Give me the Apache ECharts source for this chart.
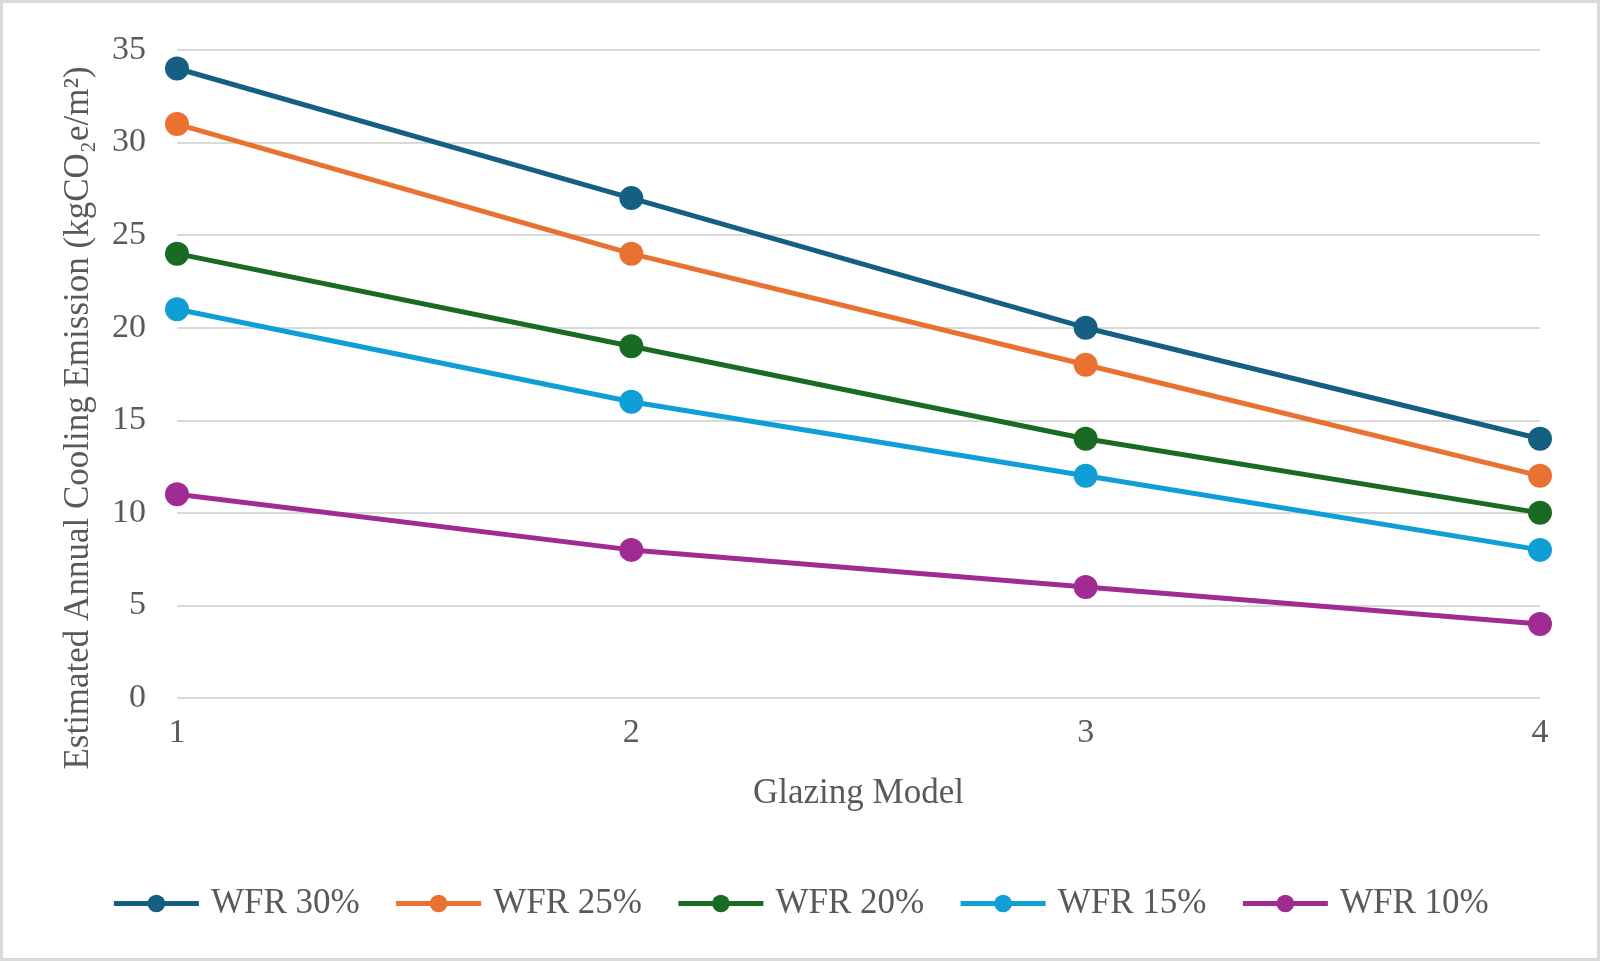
<!DOCTYPE html>
<html>
<head>
<meta charset="utf-8">
<script src="https://cdn.jsdelivr.net/npm/echarts@6/dist/echarts.min.js"></script>
<style>
html,body{margin:0;padding:0;background:#fff;}
#chart{width:1600px;height:961px;}
</style>
</head>
<body>
<div id="chart"></div>
<script>
const categories = ['1', '2', '3', '4'];
const seriesNames = ['WFR 30%', 'WFR 25%', 'WFR 20%', 'WFR 15%', 'WFR 10%'];
const wfr30 = [34, 27, 20, 14];
const wfr25 = [31, 24, 18, 12];
const wfr20 = [24, 19, 14, 10];
const wfr15 = [21, 16, 12, 8];
const wfr10 = [11, 8, 6, 4];
const colors = ['#156082', '#E97132', '#196B24', '#0F9ED5', '#A02B93'];
const yTitle = 'Estimated Annual Cooling Emission (kgCO\u2082e/m\u00B2)';
const xTitle = 'Glazing Model';

const FONT = '"Liberation Serif", "Times New Roman", serif';
const TXT = '#595959';
const values = [wfr30, wfr25, wfr20, wfr15, wfr10];

const chart = echarts.init(document.getElementById('chart'), null, {renderer: 'canvas'});
chart.setOption({
  backgroundColor: '#ffffff',
  animation: false,
  color: colors,
  grid: {left: 177, right: 60, top: 50, bottom: 263, containLabel: false},
  xAxis: {
    type: 'category',
    data: categories,
    boundaryGap: false,
    axisLine: {show: false},
    axisTick: {show: false},
    axisLabel: {color: TXT, fontFamily: FONT, fontSize: 34, margin: 18},
    name: xTitle,
    nameLocation: 'middle',
    nameGap: 78,
    nameTextStyle: {color: TXT, fontFamily: FONT, fontSize: 35}
  },
  yAxis: {
    type: 'value',
    min: 0,
    max: 35,
    interval: 5,
    axisLine: {show: false},
    axisTick: {show: false},
    axisLabel: {color: TXT, fontFamily: FONT, fontSize: 34, margin: 31},
    splitLine: {lineStyle: {color: '#D9D9D9', width: 2}}
  },
  legend: {
    data: seriesNames,
    left: 'center',
    top: 881,
    itemWidth: 85,
    itemHeight: 22,
    itemGap: 34,
    lineStyle: {width: 5},
    textStyle: {color: TXT, fontFamily: FONT, fontSize: 35, padding: [0, 0, 0, 7]}
  },
  graphic: [
    {
      type: 'rect',
      shape: {x: 1.5, y: 1.5, width: 1597, height: 958},
      style: {fill: 'none', stroke: '#D9D9D9', lineWidth: 3},
      silent: true
    },
    {
      type: 'text',
      x: 79,
      y: 418,
      rotation: Math.PI / 2,
      style: {
        text: yTitle,
        fill: TXT,
        font: '35px ' + FONT,
        textAlign: 'center',
        textVerticalAlign: 'middle'
      },
      silent: true
    }
  ],
  series: seriesNames.map((n, i) => ({
    name: n,
    type: 'line',
    data: values[i],
    symbol: 'circle',
    symbolSize: 24,
    lineStyle: {width: 5, color: colors[i]},
    itemStyle: {color: colors[i]}
  }))
});
</script>
</body>
</html>
